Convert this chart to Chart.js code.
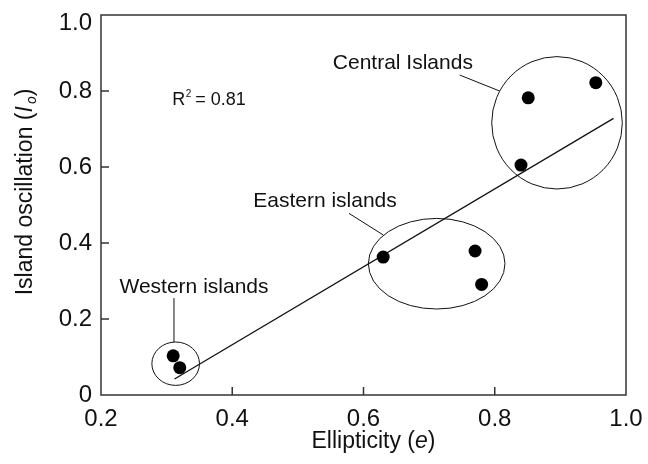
<!DOCTYPE html>
<html>
  <head>
    <title>Island oscillation vs ellipticity</title>
    <script src="https://cdn.jsdelivr.net/npm/chart.js@4.4.1/dist/chart.umd.min.js"></script>
    <style>
      html, body { margin: 0; padding: 0; background: #fff; }
      #wrap { width: 648px; height: 464px; }
    </style>
  </head>
  <body>
    <div id="wrap"><canvas id="myChart" width="648" height="464"></canvas></div>
    <script>
      // values
      const groupNames = ["Western islands", "Eastern islands", "Central Islands"];
      const westernX = [0.310, 0.320];
      const westernY = [0.103, 0.072];
      const easternX = [0.630, 0.770, 0.780];
      const easternY = [0.363, 0.379, 0.291];
      const centralX = [0.851, 0.954, 0.840];
      const centralY = [0.782, 0.822, 0.605];
      const fitX = [0.312, 0.981];
      const fitY = [0.042, 0.728];
      const rSquared = 0.81;
      const xTicks = [0.2, 0.4, 0.6, 0.8, 1.0];
      const yTicks = [0, 0.2, 0.4, 0.6, 0.8, 1.0];

      const FONT = "'Liberation Sans', Arial, sans-serif";
      const INK = "#111";
      const TICK_SIZE = 24;

      const toPoints = (xs, ys) => xs.map((x, i) => ({ x: x, y: ys[i] }));
      const allPoints = toPoints(westernX, westernY)
        .concat(toPoints(easternX, easternY))
        .concat(toPoints(centralX, centralY));

      // ellipses, leader lines and labels, in data units
      const groupMarks = [
        { name: groupNames[0], cx: 0.3138, cy: 0.0824, rx: 0.0363, ry: 0.0571,
          lead: [[0.3112, 0.255], [0.3112, 0.139]], lx: 0.3417, ly: 0.284 },
        { name: groupNames[1], cx: 0.7115, cy: 0.3455, rx: 0.1041, ry: 0.1192,
          lead: [[0.5779, 0.478], [0.6302, 0.421]], lx: 0.5413, ly: 0.509 },
        { name: groupNames[2], cx: 0.8949, cy: 0.7163, rx: 0.0995, ry: 0.1742,
          lead: [[0.7466, 0.842], [0.8074, 0.800]], lx: 0.660, ly: 0.874 },
      ];

      const tickFmt = (v) => (v === 0 ? "0" : v.toFixed(1));
      const yMax = yTicks[yTicks.length - 1];

      const figurePlugin = {
        id: "figure",
        afterDatasetsDraw(chart) {
          const ctx = chart.ctx;
          const xs = chart.scales.x;
          const ys = chart.scales.y;
          const a = chart.chartArea;
          ctx.save();

          // frame
          ctx.strokeStyle = "#333";
          ctx.lineWidth = 1.5;
          ctx.strokeRect(a.left, a.top, a.right - a.left, a.bottom - a.top);

          // inward ticks
          ctx.beginPath();
          xTicks.slice(1, -1).forEach((v) => {
            const px = xs.getPixelForValue(v);
            ctx.moveTo(px, a.bottom);
            ctx.lineTo(px, a.bottom - 8);
          });
          yTicks.slice(1, -1).forEach((v) => {
            const py = ys.getPixelForValue(v);
            ctx.moveTo(a.left, py);
            ctx.lineTo(a.left + 8, py);
          });
          ctx.stroke();

          // top y label sits just under the frame line in the original
          ctx.fillStyle = INK;
          ctx.font = TICK_SIZE + "px " + FONT;
          ctx.textAlign = "right";
          ctx.textBaseline = "alphabetic";
          ctx.fillText(tickFmt(yMax), a.left - 9, ys.getPixelForValue(yMax) + 15);

          // group ellipses, leader lines, labels
          ctx.strokeStyle = INK;
          ctx.lineWidth = 1;
          ctx.font = "21px " + FONT;
          ctx.textAlign = "center";
          ctx.textBaseline = "middle";
          groupMarks.forEach((g) => {
            const cx = xs.getPixelForValue(g.cx);
            const cy = ys.getPixelForValue(g.cy);
            const rx = Math.abs(xs.getPixelForValue(g.cx + g.rx) - cx);
            const ry = Math.abs(ys.getPixelForValue(g.cy + g.ry) - cy);
            ctx.beginPath();
            ctx.ellipse(cx, cy, rx, ry, 0, 0, Math.PI * 2);
            ctx.stroke();
            ctx.beginPath();
            ctx.moveTo(xs.getPixelForValue(g.lead[0][0]), ys.getPixelForValue(g.lead[0][1]));
            ctx.lineTo(xs.getPixelForValue(g.lead[1][0]), ys.getPixelForValue(g.lead[1][1]));
            ctx.stroke();
            ctx.fillText(g.name, xs.getPixelForValue(g.lx), ys.getPixelForValue(g.ly));
          });

          // R squared
          ctx.font = "18px " + FONT;
          ctx.textAlign = "left";
          const rx0 = xs.getPixelForValue(0.3085);
          const ry0 = ys.getPixelForValue(0.776);
          ctx.fillText("R", rx0, ry0);
          const rw = ctx.measureText("R").width;
          ctx.font = "10px " + FONT;
          ctx.fillText("2", rx0 + rw + 0.5, ry0 - 6);
          ctx.font = "18px " + FONT;
          ctx.fillText(" = " + rSquared.toFixed(2), rx0 + rw + 5, ry0);

          // x title
          ctx.textBaseline = "alphabetic";
          const xParts = [["Ellipticity (", ""], ["e", "italic "], [")", ""]];
          let total = 0;
          xParts.forEach((p) => { ctx.font = p[1] + "23px " + FONT; total += ctx.measureText(p[0]).width; });
          let px = (a.left + a.right) / 2 + 10 - total / 2;
          xParts.forEach((p) => {
            ctx.font = p[1] + "23px " + FONT;
            ctx.fillText(p[0], px, 448);
            px += ctx.measureText(p[0]).width;
          });

          // y title (rotated)
          ctx.translate(32, 192);
          ctx.rotate(-Math.PI / 2);
          const yParts = [["Island oscillation (", "", 23, 0], ["I", "italic ", 23, 0], ["o", "italic ", 14, 4], [")", "", 23, 0]];
          total = 0;
          yParts.forEach((p) => { ctx.font = p[1] + p[2] + "px " + FONT; total += ctx.measureText(p[0]).width + (p[0] === "I" ? 2 : 0); });
          px = -total / 2;
          yParts.forEach((p) => {
            ctx.font = p[1] + p[2] + "px " + FONT;
            ctx.fillText(p[0], px, p[3]);
            px += ctx.measureText(p[0]).width + (p[0] === "I" ? 2 : 0);
          });
          ctx.restore();
        },
      };

      new Chart(document.getElementById("myChart"), {
        type: "scatter",
        data: {
          datasets: [
            {
              label: "Islands",
              data: allPoints,
              backgroundColor: "#000",
              borderWidth: 0,
              pointRadius: 6.5,
              pointHoverRadius: 6.5,
            },
            {
              type: "line",
              label: "Fit",
              data: toPoints(fitX, fitY),
              borderColor: INK,
              borderWidth: 1.3,
              pointRadius: 0,
              fill: false,
            },
          ],
        },
        options: {
          responsive: false,
          animation: false,
          events: [],
          layout: { padding: { top: 15, right: 22, left: 0, bottom: 0 } },
          plugins: { legend: { display: false }, tooltip: { enabled: false } },
          scales: {
            x: {
              type: "linear",
              min: 0.2,
              max: 1.0,
              afterBuildTicks: (s) => { s.ticks = xTicks.map((v) => ({ value: v })); },
              afterFit: (s) => { s.height = 69; s.paddingLeft = 0; s.paddingRight = 0; },
              grid: { display: false, drawTicks: false },
              border: { display: false },
              ticks: { color: INK, padding: 10, maxRotation: 0, font: { family: FONT, size: TICK_SIZE }, callback: tickFmt },
            },
            y: {
              type: "linear",
              min: 0,
              max: yMax,
              afterBuildTicks: (s) => { s.ticks = yTicks.map((v) => ({ value: v })); },
              afterFit: (s) => { s.width = 101; s.paddingTop = 0; s.paddingBottom = 0; },
              grid: { display: false, drawTicks: false },
              border: { display: false },
              ticks: {
                color: INK,
                padding: 9,
                font: { family: FONT, size: TICK_SIZE },
                callback: (v) => (v === yMax ? "" : tickFmt(v)),
              },
            },
          },
        },
        plugins: [figurePlugin],
      });
    </script>
  </body>
</html>
